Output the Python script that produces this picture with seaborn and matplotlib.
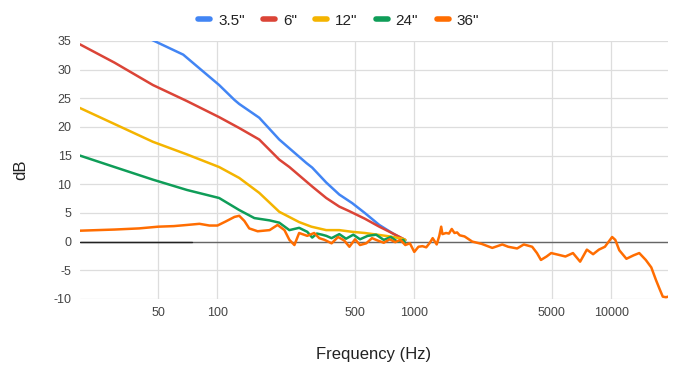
import pandas as pd
import matplotlib.pyplot as plt
import seaborn as sns

# Values
freq_35 = [45, 67, 102, 122, 129, 163, 206, 283, 303, 357, 416, 484, 560, 664, 780, 900]
db_35 = [35.4, 32.6, 27.3, 24.7, 24.0, 21.6, 17.8, 13.7, 12.9, 10.3, 8.2, 6.7, 5.0, 2.9, 1.4, 0.2]

freq_6 = [20, 30, 47, 70, 102, 129, 163, 206, 232, 303, 357, 416, 468, 560, 664, 780, 900]
db_6 = [34.4, 31.2, 27.3, 24.5, 21.7, 19.8, 17.8, 14.3, 13.0, 9.6, 7.6, 6.1, 5.3, 4.0, 2.6, 1.4, 0.3]

freq_12 = [20, 30, 47, 70, 102, 129, 163, 206, 260, 300, 357, 416, 484, 560, 650, 750, 870, 900]
db_12 = [23.3, 20.5, 17.4, 15.2, 13.0, 11.1, 8.5, 5.2, 3.4, 2.6, 2.0, 2.0, 1.7, 1.5, 1.2, 0.9, 0.5, 0.3]

freq_24 = [20, 30, 47, 70, 102, 129, 154, 184, 206, 232, 260, 286, 303, 320, 340, 357,
           380, 416, 450, 490, 530, 580, 640, 700, 760, 820, 880, 900]
db_24 = [15.0, 13.0, 10.8, 9.0, 7.6, 5.5, 4.1, 3.7, 3.3, 2.0, 2.4, 1.7, 0.7, 1.4, 1.2, 1.0,
         0.6, 1.3, 0.5, 1.2, 0.4, 1.0, 1.2, 0.3, 0.8, 0.0, 0.3, -0.3]

freq_36 = [20, 30, 40, 50, 60, 70, 81, 91, 100, 110, 122, 129, 137, 145, 160, 184, 202, 219,
           232, 246, 260, 286, 310, 329, 350, 380, 410, 440, 468, 500, 530, 570, 610, 650,
           700, 750, 800, 850, 900, 950, 1000, 1050, 1100, 1150, 1200, 1240, 1300, 1340,
           1370, 1390, 1450, 1500, 1550, 1600, 1650, 1700, 1800, 1970, 2200, 2490, 2800,
           3000, 3330, 3600, 3970, 4200, 4400, 4700, 4960, 5400, 5860, 6400, 6960, 7530,
           8100, 8670, 9300, 10120, 10500, 11000, 11960, 13000, 13900, 15000, 16000, 16900,
           17600, 18300, 19000, 19500]
db_36 = [1.9, 2.1, 2.3, 2.6, 2.7, 2.9, 3.1, 2.8, 2.8, 3.5, 4.3, 4.5, 3.6, 2.3, 1.8, 2.0, 2.9,
         2.0, 0.3, -0.6, 1.5, 1.0, 1.5, 0.6, 0.3, -0.3, 0.8, 0.2, -0.9, 0.4, -0.6, -0.3, 0.6,
         0.2, -0.2, 0.4, -0.1, 0.3, -0.6, -0.3, -1.8, -0.9, -0.8, -1.0, -0.2, 0.6, -0.5, 1.0,
         2.6, 1.3, 1.5, 1.4, 2.2, 1.5, 1.6, 1.1, 0.9, 0.0, -0.4, -1.1, -0.5, -0.9, -1.2, -0.5,
         -0.9, -2.0, -3.2, -2.6, -2.0, -2.3, -2.6, -2.0, -3.5, -1.4, -2.2, -1.4, -0.9, 0.8,
         0.3, -1.5, -3.0, -2.4, -2.0, -3.2, -4.5, -6.7, -8.2, -9.6, -9.7, -9.6]

series = ['3.5"', '6"', '12"', '24"', '36"']
colors = ['#4285F4', '#DB4437', '#F4B400', '#0F9D58', '#FF6D01']
xticks = [50, 100, 500, 1000, 5000, 10000]
yticks = [-10, -5, 0, 5, 10, 15, 20, 25, 30, 35]

frames = []
for name, f, d in zip(series, [freq_35, freq_6, freq_12, freq_24, freq_36],
                      [db_35, db_6, db_12, db_24, db_36]):
    frames.append(pd.DataFrame({"freq": f, "db": d, "series": name}))
df = pd.concat(frames, ignore_index=True)

sns.set_style("white")
plt.rcParams['font.family'] = ['Liberation Sans', 'DejaVu Sans']
plt.rcParams['axes.unicode_minus'] = False

fig, ax = plt.subplots(figsize=(6.77, 3.65), dpi=100)
fig.subplots_adjust(left=0.118, right=0.987, top=0.888, bottom=0.181)

# grid
for y in yticks:
    ax.axhline(y, color='#dddddd', lw=0.9, zorder=0)
for x in xticks:
    ax.axvline(x, color='#dddddd', lw=0.9, zorder=0)
ax.axhline(0, color='#666666', lw=1.0, zorder=1)
ax.axhline(0, xmax=0.19, color='#222222', lw=1.0, zorder=1)

sns.lineplot(data=df, x="freq", y="db", hue="series", palette=colors,
             hue_order=series, lw=1.8, ax=ax, sort=False, estimator=None)

ax.set_xscale('log')
ax.set_xlim(20, 19500)
ax.set_ylim(-10, 35)
ax.set_xticks(xticks)
ax.set_xticklabels([str(x) for x in xticks])
ax.minorticks_off()
ax.set_yticks(yticks)
ax.tick_params(axis='both', length=0, labelsize=9, colors='#444444', pad=6)
for s in ax.spines.values():
    s.set_visible(False)

ax.set_xlabel("Frequency (Hz)", fontsize=12, color='#222222', labelpad=20)
ax.set_ylabel("dB", fontsize=12, color='#222222', labelpad=18)

handles, labels = ax.get_legend_handles_labels()
for h in handles:
    h.set_linewidth(4)
ax.legend(handles, labels, loc='upper center', bbox_to_anchor=(0.5, 1.0),
          bbox_transform=fig.transFigure, ncol=5, frameon=False, fontsize=11,
          handlelength=0.8, handletextpad=0.5, columnspacing=1.2, labelcolor='#222222')

plt.savefig("out.png", dpi=100)
